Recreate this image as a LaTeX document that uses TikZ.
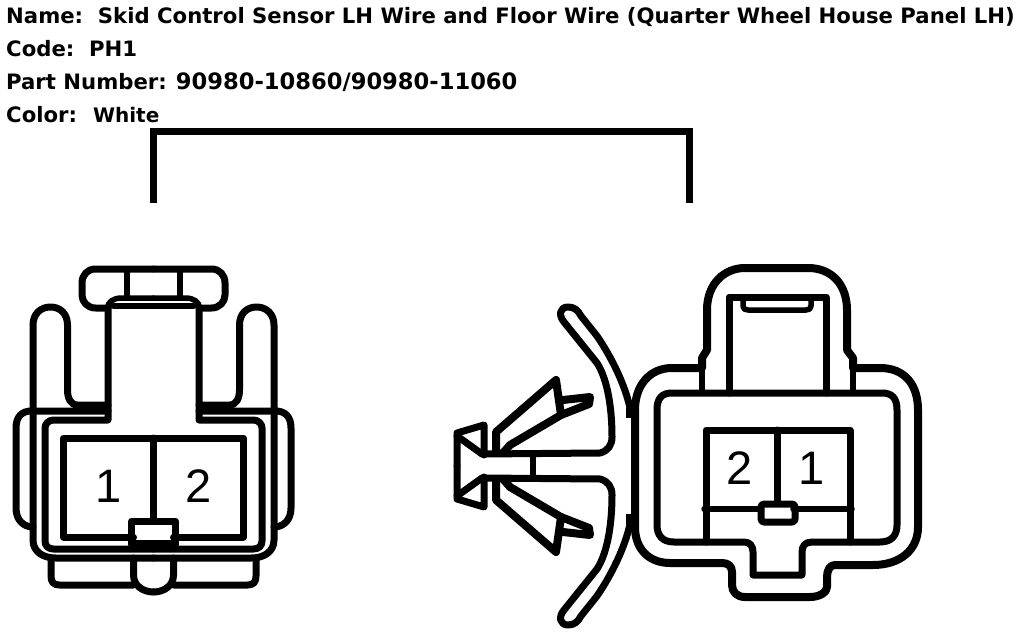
\documentclass[tikz,border=0pt]{standalone}
\usepackage{fontspec}
\setmainfont{DejaVu Sans}
\usepackage{xcolor}
\tikzset{
	heavywire/.style={line width=8pt,line join=round,line cap=round},
	wire/.style={line width=7pt,line join=round,line cap=round},
	thinwire/.style={line width=5.5pt,line join=round,line cap=round},
	title/.style={anchor=base west,inner sep=0pt,font=\bfseries\fontsize{21.2}{24}\selectfont},
	pin/.style={inner sep=0pt,font=\fontspec{Liberation Sans}\fontsize{47}{50}\selectfont}
}
\begin{document}
\begin{tikzpicture}[x=1pt,y=-1pt]
	\useasboundingbox (0,0) rectangle (1024,636);
	
	% header
	\node[title] (name) at (6,24) {Name:\ \ Skid Control Sensor LH Wire and Floor Wire (Quarter Wheel House Panel LH)};
	\node[title] (code) at (6,57) {Code:\ \ PH1};
	\node[title] (part) at (6,90) {Part Number:\hspace{9pt}{\fontsize{22.6}{24}\selectfont 90980-10860/90980-11060}};
	\node[title] (color) at (6,123) {Color:\hspace{16pt}{\fontsize{20}{24}\selectfont White}};
	
	% bracket
	\draw[line width=7pt] (153,203) -- (153,132) -- (689,132) -- (689,203);
	
	% left connector, one half drawn twice
	\foreach \m in {1,-1} {
	\begin{scope}[shift={(153.5,0)},xscale=\m]
		\draw[wire] (-45.5,308) -- (-58,308) .. controls (-66,308) and (-71.5,302) .. (-71.5,295) -- (-71.5,283) .. controls (-71.5,275) and (-66,269) .. (-58,269) -- (0,269);
		\draw[thinwire] (-26.5,269) -- (-26.5,296);
		\draw[thinwire] (-46,308) .. controls (-46,302) and (-40,298) .. (-32,298) -- (0,298);
		\draw[thinwire] (-40,306) -- (0,306);
		\draw[wire] (-45.5,308) -- (-45.5,420) -- (-100,420) .. controls (-105,420) and (-108.5,424) .. (-108.5,428) -- (-108.5,541) .. controls (-108.5,546) and (-105,549) .. (-100,549) -- (0,549);
		\draw[wire] (-45.5,405) -- (-76,405) .. controls (-83,405) and (-86,398) .. (-86,390) -- (-86,325) .. controls (-86,314) and (-93,307) .. (-103,307) .. controls (-113,307) and (-120.5,314) .. (-120.5,325) -- (-120.5,540) .. controls (-120.5,552) and (-110,558) .. (-98,558) -- (0,558);
		\draw[wire] (-45.5,411) -- (-122,411) .. controls (-132,411) and (-137.5,417) .. (-137.5,428) -- (-137.5,508) .. controls (-137.5,520) and (-130,527) .. (-120.5,527);
		\draw[wire] (-20,537) -- (-90,537) -- (-90,438) -- (0,438);
		\draw[wire] (-20,585) -- (-94,585) .. controls (-100,585) and (-102.5,582) .. (-102.5,576) -- (-102.5,558);
		\draw[wire] (-20,558) -- (-20,575) .. controls (-20,586) and (-10,592) .. (0,592);
		\draw[wire] (0,521) -- (-22,521) -- (-22,544) -- (0,544);
		\draw[line width=8pt] (-22,544) -- (0,544);
	\end{scope}
	}
	\draw[wire] (153.5,438) -- (153.5,521);
	\node[pin] (pina) at (109,486) {1};
	\node[pin] (pinb) at (199,486) {2};
	
	% clip between connectors, one half drawn twice
	\foreach \m in {1,-1} {
	\begin{scope}[shift={(0,466)},yscale=\m]
		\draw[wire] (457,0) -- (457,-33) -- (484,-41) -- (484,-11);
		\draw[wire] (457,-30) -- (482,-12) -- (600,-13) .. controls (608,-15) and (612,-21) .. (612,-29) .. controls (612,-56) and (608,-86) .. (597,-103) -- (564,-144) .. controls (558,-151) and (560,-159) .. (568,-159) .. controls (574,-159) and (578,-156) .. (581,-150) -- (597,-130) .. controls (612,-108) and (625,-81) .. (630,-58);
		\draw[heavywire] (496,-13) -- (496,-34) -- (556,-86) -- (561,-51) -- (510,-21) -- (503,-13);
		\draw[heavywire] (563,-66) -- (590,-69) -- (589,-62) -- (561,-51);
		\draw[line width=9pt] (630,-58) -- (630,-48);
	\end{scope}
	}
	\draw[thinwire] (533,455) -- (533,478);
	
	% right connector
	\draw[heavywire] (702,368) -- (702,358) -- (707,350) -- (707,310) .. controls (707,283) and (725,268) .. (745,268) -- (808,268) .. controls (832,268) and (847,285) .. (847,310) -- (847,350) -- (853,358) -- (853,368) -- (880,368) .. controls (905,368) and (918,385) .. (918,410) -- (918,527) .. controls (918,550) and (900,565) .. (873,565) -- (835,565) .. controls (830,565) and (827,570) .. (827,577) -- (827,587) .. controls (827,592) and (820,597) .. (810,597) -- (745,597) .. controls (737,597) and (732,592) .. (732,585) -- (732,572) .. controls (732,566) and (728,563) .. (722,563) -- (670,563) .. controls (650,563) and (635,550) .. (635,527) -- (635,410) .. controls (635,385) and (650,368) .. (672,368) -- (702,368);
	\draw[wire] (657,410) .. controls (657,398) and (662,393) .. (672,393) -- (882,393) .. controls (892,393) and (897,398) .. (897,410) -- (897,525) .. controls (897,535) and (892,542) .. (880,542) -- (812,542) .. controls (805,542) and (802,546) .. (802,552) -- (802,575) -- (753,575) -- (753,552) .. controls (753,546) and (750,542) .. (744,542) -- (674,542) .. controls (662,542) and (657,535) .. (657,525) -- cycle;
	\draw[wire] (729,393) -- (729,297) -- (826,297) -- (826,393);
	\draw[thinwire] (743,300) -- (743,306) .. controls (743,309) and (745,310) .. (748,310) -- (806,310) .. controls (809,310) and (811,309) .. (811,306) -- (811,300);
	\draw[thinwire] (702,368) -- (702,393);
	\draw[thinwire] (853,368) -- (853,393);
	\draw[wire] (706,542) -- (706,430) -- (850,430) -- (850,542);
	\draw[wire] (777,430) -- (777,503);
	\draw[thinwire] (704,509) -- (760,509);
	\draw[thinwire] (793,509) -- (852,509);
	\draw[wire,rounded corners=3pt] (761,504) rectangle (795,522);
	\node[pin] (pinc) at (740,468) {2};
	\node[pin] (pind) at (812,468) {1};
\end{tikzpicture}
\end{document}
